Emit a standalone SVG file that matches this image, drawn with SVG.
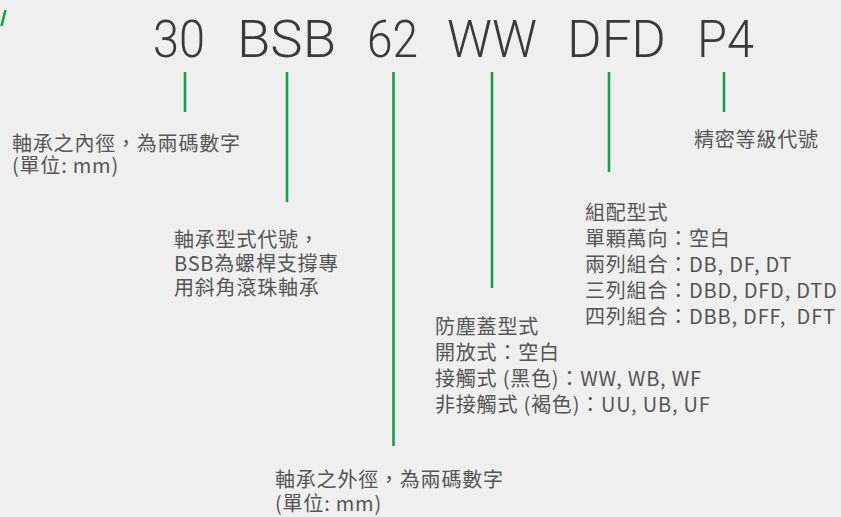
<svg xmlns="http://www.w3.org/2000/svg" width="841" height="517" viewBox="0 0 841 517">
<style>
.bg{fill:#efefef}
.code{font-family:"Roboto","Liberation Sans",sans-serif;font-weight:300;font-size:52px;fill:#3a3a3a}
.lbl{font-family:"Noto Sans CJK TC","Noto Sans",sans-serif;font-size:20px;fill:#555555;letter-spacing:0.8px;white-space:pre}
.ln{stroke:#0ea54a;stroke-width:2.6;fill:none}
</style>
<rect class="bg" x="0" y="0" width="841" height="517"/>
<line class="ln" x1="5.5" y1="10" x2="1.5" y2="26"/>
<g id="code">
<text class="code" x="153" y="57" textLength="52" lengthAdjust="spacingAndGlyphs">30</text>
<text class="code" x="237" y="57" textLength="99" lengthAdjust="spacingAndGlyphs">BSB</text>
<text class="code" x="367" y="57" textLength="51" lengthAdjust="spacingAndGlyphs">62</text>
<text class="code" x="447" y="57" textLength="90" lengthAdjust="spacingAndGlyphs">WW</text>
<text class="code" x="567" y="57" textLength="99" lengthAdjust="spacingAndGlyphs">DFD</text>
<text class="code" x="697" y="57" textLength="57" lengthAdjust="spacingAndGlyphs">P4</text>
</g>
<g id="connectors">
<line class="ln" x1="185" y1="72" x2="185" y2="112"/>
<line class="ln" x1="287" y1="72" x2="287" y2="202"/>
<line class="ln" x1="393.5" y1="72" x2="393.5" y2="446"/>
<line class="ln" x1="492" y1="72" x2="492" y2="288"/>
<line class="ln" x1="609" y1="72" x2="609" y2="172"/>
<line class="ln" x1="724" y1="72" x2="724" y2="112"/>
</g>
<g id="inner-dia">
<text class="lbl"><tspan x="12" y="151">軸承之內徑，為兩碼數字</tspan><tspan x="12" y="173">(單位: mm)</tspan></text>
</g>
<g id="type">
<text class="lbl"><tspan x="174" y="247">軸承型式代號，</tspan><tspan x="174" y="271">BSB為螺桿支撐專</tspan><tspan x="174" y="295">用斜角滾珠軸承</tspan></text>
</g>
<g id="outer-dia">
<text class="lbl"><tspan x="275" y="487">軸承之外徑，為兩碼數字</tspan><tspan x="275" y="511">(單位: mm)</tspan></text>
</g>
<g id="seal">
<text class="lbl"><tspan x="435" y="334">防塵蓋型式</tspan><tspan x="435" y="360">開放式：空白</tspan><tspan x="435" y="386">接觸式 (黑色)：WW, WB, WF</tspan><tspan x="435" y="412">非接觸式 (褐色)：UU, UB, UF</tspan></text>
</g>
<g id="arrangement">
<text class="lbl"><tspan x="585" y="220">組配型式</tspan><tspan x="585" y="246">單顆萬向：空白</tspan><tspan x="585" y="272">兩列組合：DB, DF, DT</tspan><tspan x="585" y="298">三列組合：DBD, DFD, DTD</tspan><tspan x="585" y="324">四列組合：DBB, DFF,  DFT</tspan></text>
</g>
<g id="precision">
<text class="lbl" x="694" y="147">精密等級代號</text>
</g>
</svg>
